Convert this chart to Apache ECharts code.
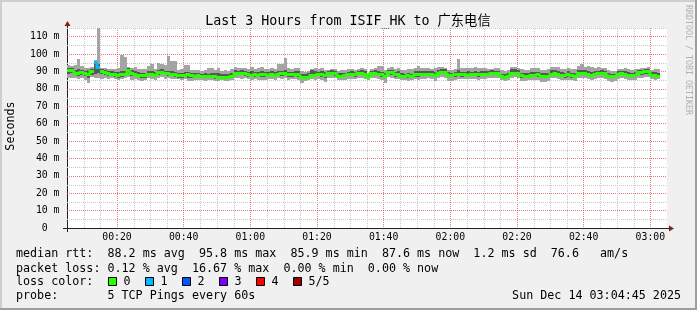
<!DOCTYPE html>
<html><head><meta charset="utf-8">
<script src="https://cdn.jsdelivr.net/npm/echarts@6/dist/echarts.min.js"></script>
<style>html,body{margin:0;padding:0;background:#f0f0f0;}#c{width:697px;height:310px;}</style>
</head><body><div id="c"></div>
<script>
// ---- data (RTT in ms, one bar per minute starting 00:05) ----
const startMinute = 5;
const med = [
90.8,90.6,89.4,89.2,89.6,88.9,88.3,90.4,95.7,92.6,
90.2,89.5,89.3,88.8,88.6,88.2,88.4,88.5,90.6,89.1,
88.7,87.9,87.8,87.7,88.5,88.4,87.9,89.6,89.7,89.2,
88.9,88.6,88.4,88.0,87.9,88.1,88.3,88.0,87.6,87.7,
87.3,87.5,87.4,87.2,87.3,86.9,87.1,87.0,86.8,87.2,
89.3,89.1,89.2,88.9,88.6,88.2,88.4,88.1,88.5,88.3,
88.2,88.4,88.1,88.7,88.9,89.0,88.5,88.3,88.6,88.4,
86.9,86.8,87.0,87.8,88.2,88.5,88.3,88.1,89.1,89.3,
88.9,87.6,87.5,87.8,88.4,88.6,88.3,88.9,89.2,88.8,
87.1,89.2,89.3,88.7,88.3,87.6,89.6,89.5,88.4,88.6,
87.6,87.4,87.7,87.5,88.3,88.5,88.6,88.4,88.7,88.5,
88.1,89.3,89.8,89.9,88.2,88.0,88.3,88.6,88.4,88.5,
88.2,88.4,88.5,88.3,88.6,88.4,88.7,89.0,88.9,89.1,
87.2,87.0,87.3,89.2,89.3,89.1,87.7,87.5,87.6,88.2,
88.1,88.3,87.5,87.3,87.4,88.8,88.9,88.7,87.9,87.7,
88.3,87.7,87.6,88.9,89.2,89.0,88.4,88.2,88.5,89.1,
89.2,89.0,87.4,87.2,87.3,88.7,88.9,88.8,87.9,87.8,
87.9,89.6,89.5,90.1,90.0,88.2,88.1,87.6];
const minRtt = [
86.2,86.0,86.4,85.4,86.3,85.1,83.4,86.8,86.0,86.5,
85.8,86.0,85.5,86.2,85.6,85.2,85.9,86.3,86.8,85.3,
85.6,85.1,84.8,85.3,86.0,85.8,84.9,86.4,86.7,85.9,
86.3,85.6,85.9,85.4,85.2,85.7,84.3,84.5,85.0,85.2,
85.1,84.6,84.9,85.3,84.8,84.4,85.0,84.7,84.5,85.2,
86.0,86.2,85.8,86.4,85.5,85.0,85.6,84.9,85.3,85.1,
85.4,85.6,85.0,86.1,85.8,86.2,85.3,85.5,85.7,85.1,
83.4,84.6,84.9,85.4,85.2,85.8,85.1,83.8,86.2,86.4,
86.0,84.9,85.2,85.0,85.7,85.9,85.4,86.1,86.3,85.8,
85.2,86.3,86.5,85.9,85.3,83.4,86.6,86.4,85.6,85.8,
85.1,85.3,84.8,85.0,85.6,85.2,85.9,85.5,86.0,85.7,
84.6,86.4,86.8,86.5,84.3,84.8,85.2,85.6,85.4,85.7,
85.5,85.6,85.9,85.3,85.8,85.4,86.0,86.3,86.1,86.2,
85.0,84.8,85.1,86.4,86.6,86.3,84.6,84.4,84.9,85.2,
84.9,85.2,83.8,84.1,84.6,86.0,86.2,85.9,85.3,85.0,
85.1,84.9,84.7,86.1,86.4,86.2,85.5,85.3,85.7,86.0,
86.1,85.9,84.3,84.1,84.4,85.8,86.0,85.7,85.1,85.0,
85.3,86.5,86.4,87.0,86.8,85.4,85.2,85.6];
const lowRtt = [
88.6,88.9,87.8,87.5,88.1,87.4,86.2,87.9,88.5,88.9,
88.4,88.0,87.6,87.3,86.8,86.5,87.0,87.2,88.7,87.6,
87.3,86.7,86.4,86.5,87.4,87.2,86.6,88.1,88.4,87.8,
87.5,87.2,86.9,86.4,86.3,86.8,86.1,86.2,86.4,86.6,
86.2,86.0,86.1,86.3,85.9,85.8,86.0,85.7,85.6,86.1,
87.9,87.7,88.0,87.5,87.1,86.6,86.9,86.7,87.0,86.8,
87.0,87.2,86.7,87.6,87.4,87.9,87.0,86.9,87.3,87.1,
85.7,85.9,86.1,86.7,86.9,87.2,87.0,86.5,87.8,88.0,
87.5,86.4,86.3,86.6,87.2,87.3,87.0,87.7,87.9,87.6,
86.1,88.0,88.1,87.4,87.0,86.3,88.3,88.2,87.1,87.4,
86.4,86.2,86.5,86.3,87.1,87.0,87.4,87.2,87.5,87.3,
86.8,88.1,88.5,88.6,86.9,86.6,87.0,87.3,87.1,87.2,
87.0,87.2,87.3,87.1,87.4,87.2,87.6,87.9,87.7,88.0,
86.1,85.9,86.2,88.0,88.1,87.9,86.5,86.3,86.4,87.0,
86.9,87.1,86.3,86.1,86.2,87.6,87.7,87.5,86.8,86.5,
87.1,86.5,86.4,87.8,88.0,87.9,87.2,87.0,87.3,87.9,
88.0,87.8,86.2,86.0,86.1,87.5,87.7,87.6,86.7,86.6,
86.8,88.3,88.2,88.8,88.7,87.1,87.0,86.7];
const highRtt = [
91.9,92.0,91.0,91.6,90.8,90.4,90.7,91.3,96.0,94.5,
91.6,90.7,90.5,90.0,89.9,89.8,90.1,90.4,91.8,90.6,
90.2,89.6,89.3,89.4,90.3,90.1,89.5,91.0,91.2,90.5,
90.1,90.4,89.8,89.2,89.3,89.6,89.5,89.3,88.9,89.1,
88.8,89.0,88.7,89.1,89.3,88.9,88.6,88.8,88.5,89.4,
90.6,90.4,90.8,90.2,89.9,90.1,89.7,89.8,90.3,89.6,
89.8,90.0,89.6,90.3,90.5,90.7,89.9,89.7,90.2,90.0,
88.4,88.6,88.9,91.0,90.4,89.9,90.1,89.6,90.4,90.7,
90.2,88.9,89.0,89.4,89.8,90.0,89.7,90.3,90.6,90.1,
88.2,90.4,90.6,90.1,89.8,89.0,91.0,90.9,89.9,90.1,
88.9,88.7,89.0,88.8,90.1,90.4,90.0,90.2,90.3,90.0,
89.9,90.8,91.2,91.3,89.6,89.4,89.7,91.1,89.8,89.9,
90.0,89.9,90.2,89.8,90.1,90.3,90.4,90.6,90.5,90.5,
88.8,88.6,88.9,91.3,91.4,91.1,89.3,89.1,89.2,89.8,
89.7,89.9,89.1,88.9,89.0,90.6,90.7,90.5,89.6,89.4,
90.4,89.3,89.1,90.6,91.0,90.8,90.1,89.9,90.0,90.5,
90.6,90.4,88.9,88.7,88.8,90.3,90.5,90.4,89.5,89.4,
89.6,91.0,90.8,91.6,91.4,89.7,89.6,89.4];
const maxRtt = [
93.6,93.4,93.5,96.9,92.9,92.1,91.8,92.4,96.4,115.2,
92.2,91.9,91.6,91.3,91.7,92.0,99.4,98.4,92.6,91.9,
92.8,91.5,91.2,91.6,93.0,94.2,91.4,94.6,94.4,93.8,
98.8,95.9,96.1,90.8,91.2,94.0,93.8,91.1,90.6,90.9,
90.2,90.6,92.1,92.0,91.0,91.8,90.5,90.9,90.3,91.2,
92.4,92.0,91.8,92.2,91.6,92.5,91.4,91.9,92.3,91.7,
91.6,92.0,91.3,94.5,94.3,97.8,91.8,91.2,91.9,92.1,
90.3,89.8,90.5,91.4,91.9,91.5,92.0,91.1,91.0,91.3,
91.6,90.5,90.7,91.0,91.2,91.4,90.9,91.5,92.1,91.7,
89.4,91.4,91.8,93.0,92.9,90.6,92.2,92.4,91.6,91.9,
91.0,90.8,91.4,91.2,92.1,93.0,92.2,91.8,92.0,91.6,
92.0,92.4,92.6,92.2,91.1,91.0,91.4,97.4,91.9,92.1,
92.0,91.8,92.3,91.9,92.2,92.1,91.7,91.6,91.8,92.0,
90.8,90.4,90.9,92.4,92.7,92.2,91.3,90.9,91.1,92.0,
91.8,91.9,90.8,90.6,91.2,92.6,92.8,92.4,91.6,91.5,
92.2,91.5,91.4,93.2,94.5,92.8,93.0,92.4,91.9,92.3,
92.1,92.0,90.6,90.3,90.5,91.7,91.6,91.8,91.2,91.1,
91.3,91.7,91.9,92.1,92.3,91.0,91.2,91.4];
// pings lost (out of 5) at these bar indices; all others 0
const lossIndex = [8, 9];
const lossCount = [1, 1];

const lossLabels = ['0', '1', '2', '3', '4', '5/5'];
const lossColors = ['#26ff00', '#00b8ff', '#0059ff', '#7e00ff', '#ff0000', '#a10000'];
const xTicks = [20, 40, 60, 80, 100, 120, 140, 160, 180];
const xTickLabels = ['00:20','00:40','01:00','01:20','01:40','02:00','02:20','02:40','03:00'];
const yTicks = [0,10,20,30,40,50,60,70,80,90,100,110];
const yTickLabels = ['0  ','10 m','20 m','30 m','40 m','50 m','60 m','70 m','80 m','90 m','100 m','110 m'];
const titleText = 'Last 3 Hours from ISIF_HK to 广东电信';
const legendRtt = 'median rtt:  88.2 ms avg  95.8 ms max  85.9 ms min  87.6 ms now  1.2 ms sd  76.6   am/s';
const legendLoss = 'packet loss: 0.12 % avg  16.67 % max  0.00 % min  0.00 % now';
const legendProbe = 'probe:       5 TCP Pings every 60s';
const stampText = 'Sun Dec 14 03:04:45 2025';

const X_MIN = 5, X_MAX = 185, Y_MAX = 115;
const MONO = '"DejaVu Sans Mono", "Noto Sans CJK SC", monospace';
const GRID_MINOR = '#c9c9c9';
const GRID_MAJOR = 'rgba(225,70,70,0.72)';

// minor grid positions (those not on a major line)
const xGridMinor = [], yGridMinor = [];
for (let v = X_MIN + 5; v < X_MAX; v += 5) if (v % 20 !== 0) xGridMinor.push(v);
for (let v = 5; v <= Y_MAX; v += 5) if (v % 10 !== 0) yGridMinor.push(v);

const loss = med.map(() => 0);
lossIndex.forEach((k, j) => { loss[k] = lossCount[j]; });
const rows = med.map((m, i) => [startMinute + i, minRtt[i], lowRtt[i], m, highRtt[i], maxRtt[i], loss[i]]);

function gridSeries(values, vertical) {
  return { type: 'custom', clip: false, z: 1, silent: true,
    data: values.map(v => vertical ? [v, 0] : [X_MIN, v]),
    renderItem: function (params, api) {
      const v = values[params.dataIndex];
      const style = { stroke: GRID_MINOR, lineWidth: 1, lineDash: [1, 1], fill: null };
      if (vertical) {
        const p0 = api.coord([v, 0]), p1 = api.coord([v, Y_MAX]);
        const x = Math.round(p0[0]) + 0.5;
        return { type: 'line', shape: { x1: x, y1: Math.round(p0[1]), x2: x, y2: Math.round(p1[1]) }, style };
      }
      const p0 = api.coord([X_MIN, v]), p1 = api.coord([X_MAX, v]);
      const y = Math.round(p0[1]) + 0.5;
      return { type: 'line', shape: { x1: Math.round(p0[0]), y1: y, x2: Math.round(p1[0]), y2: y }, style };
    } };
}
function renderSmoke(params, api) {
  const r = rows[params.dataIndex];
  const t = r[0];
  const a = api.coord([t, r[5]]);
  const b = api.coord([t + 1, r[1]]);
  const c = api.coord([t, r[4]]);
  const d = api.coord([t + 1, r[2]]);
  const x0 = Math.round(a[0]), x1 = Math.round(b[0]);
  return { type: 'group', children: [
    { type: 'rect', shape: { x: x0, y: Math.round(a[1]), width: x1 - x0, height: Math.round(b[1]) - Math.round(a[1]) }, style: { fill: '#a4a4a4' } },
    { type: 'rect', shape: { x: x0, y: Math.round(c[1]), width: x1 - x0, height: Math.round(d[1]) - Math.round(c[1]) }, style: { fill: '#585858' } }
  ]};
}
function renderMedian(params, api) {
  const i = params.dataIndex;
  const r = rows[i];
  const t = r[0], m = r[3], l = r[6];
  const p0 = api.coord([t, m]), p1 = api.coord([t + 1, m]);
  const x0 = Math.round(p0[0]), x1 = Math.round(p1[0]), y = Math.round(p0[1]) + 0.5;
  const pts = [];
  if (i > 0 && rows[i - 1][6] === l) {
    const pp = api.coord([t, rows[i - 1][3]]);
    pts.push([x0, Math.round(pp[1]) + 0.5]);
  }
  pts.push([x0, y], [x1, y]);
  return { type: 'polyline', shape: { points: pts }, style: { stroke: lossColors[l], lineWidth: 3, fill: null, lineJoin: 'miter', lineCap: 'butt' } };
}

const graphics = [
  { type: 'rect', shape: { x: 0, y: 0, width: 697, height: 2 }, style: { fill: '#cfcfcf' } },
  { type: 'rect', shape: { x: 0, y: 0, width: 2, height: 310 }, style: { fill: '#cfcfcf' } },
  { type: 'rect', shape: { x: 695, y: 0, width: 2, height: 310 }, style: { fill: '#9e9e9e' } },
  { type: 'rect', shape: { x: 0, y: 308, width: 697, height: 2 }, style: { fill: '#9e9e9e' } },
  { type: 'text', x: 348, y: 22, style: { text: titleText, font: '13.3px ' + MONO, fill: '#000', align: 'center', verticalAlign: 'middle' } },
  { type: 'text', x: 11, y: 126, rotation: Math.PI / 2, style: { text: 'Seconds', font: '11.7px ' + MONO, fill: '#000', align: 'center', verticalAlign: 'middle' } },
  { type: 'text', x: 688, y: 60, rotation: -Math.PI / 2, style: { text: 'RRDTOOL / TOBI OETIKER', font: '8.3px ' + MONO, fill: '#b0b0b0', align: 'center', verticalAlign: 'middle' } },
  // axis extensions and arrows
  { type: 'line', shape: { x1: 63, y1: 228.5, x2: 671, y2: 228.5 }, style: { stroke: '#1f1f1f', lineWidth: 1 } },
  { type: 'line', shape: { x1: 67.5, y1: 232, x2: 67.5, y2: 24 }, style: { stroke: '#1f1f1f', lineWidth: 1 } },
  { type: 'polygon', shape: { points: [[669, 225.5], [669, 231.5], [674, 228.5]] }, style: { fill: '#801f1f' } },
  { type: 'polygon', shape: { points: [[64.5, 26], [70.5, 26], [67.5, 21]] }, style: { fill: '#801f1f' } },
  { type: 'text', x: 16, y: 254, style: { text: legendRtt, font: '11.7px ' + MONO, fill: '#000', verticalAlign: 'middle' } },
  { type: 'text', x: 16, y: 268.5, style: { text: legendLoss, font: '11.7px ' + MONO, fill: '#000', verticalAlign: 'middle' } },
  { type: 'text', x: 16, y: 282, style: { text: 'loss color:', font: '11.7px ' + MONO, fill: '#000', verticalAlign: 'middle' } },
  { type: 'text', x: 16, y: 296, style: { text: legendProbe, font: '11.7px ' + MONO, fill: '#000', verticalAlign: 'middle' } },
  { type: 'text', x: 681, y: 296, style: { text: stampText, font: '11.7px ' + MONO, fill: '#000', align: 'right', verticalAlign: 'middle' } }
];
lossLabels.forEach((lab, k) => {
  const bx = 108.5 + k * 37;
  graphics.push({ type: 'rect', shape: { x: bx, y: 277.5, width: 8, height: 8 }, style: { fill: lossColors[k], stroke: '#000', lineWidth: 1 } });
  graphics.push({ type: 'text', x: bx + 15, y: 282, style: { text: lab, font: '11.7px ' + MONO, fill: '#000', verticalAlign: 'middle' } });
});

const chart = echarts.init(document.getElementById('c'), null, { renderer: 'canvas' });
chart.setOption({
  backgroundColor: '#f0f0f0',
  animation: false,
  grid: { left: 67, top: 28, width: 600, height: 200, show: true, backgroundColor: '#ffffff', borderWidth: 0 },
  xAxis: {
    type: 'value', min: X_MIN, max: X_MAX, minInterval: 20, maxInterval: 20, splitNumber: 9, position: 'bottom',
    axisLine: { show: false }, axisTick: { show: false },
    splitLine: { show: true, showMinLine: false, showMaxLine: false, lineStyle: { color: GRID_MAJOR, type: [1, 1], width: 1 } },
    axisLabel: { margin: 5, showMinLabel: false, showMaxLabel: false, color: '#000', fontFamily: MONO, fontSize: 9.8,
      formatter: v => { const k = xTicks.indexOf(Math.round(v)); return k >= 0 ? xTickLabels[k] : ''; } }
  },
  yAxis: {
    type: 'value', min: 0, max: Y_MAX, interval: 10, position: 'left',
    axisLine: { show: false }, axisTick: { show: false },
    splitLine: { show: true, showMinLine: false, showMaxLine: false, lineStyle: { color: GRID_MAJOR, type: [1, 1], width: 1 } },
    axisLabel: { margin: 7.5, showMaxLabel: false, color: '#000', fontFamily: MONO, fontSize: 9.8,
      formatter: v => { const k = yTicks.indexOf(Math.round(v)); return k >= 0 ? yTickLabels[k] : ''; } }
  },
  series: [
    gridSeries(xGridMinor, true),
    gridSeries(yGridMinor, false),
    { type: 'custom', renderItem: renderSmoke, data: rows, clip: true, z: 2, silent: true },
    { type: 'custom', renderItem: renderMedian, data: rows, clip: true, z: 3, silent: true }
  ],
  graphic: graphics
});
</script></body></html>
